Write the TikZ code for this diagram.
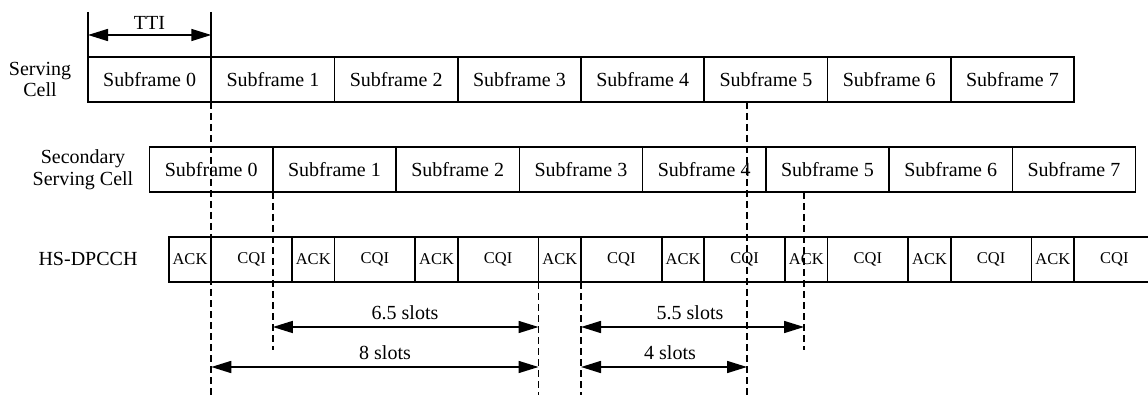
\documentclass[tikz,border=0pt]{standalone}
\usepackage{fontspec}
\setmainfont{Liberation Serif}
\usetikzlibrary{arrows.meta}
\begin{document}
\begin{tikzpicture}[x=1pt,y=-1pt,
  frame/.style={draw, line width=1.6pt, minimum height=45pt, inner sep=0pt, outer sep=0pt,
    font=\fontsize{20}{22}\selectfont},
  sfbox/.style={frame, minimum width=123.25pt},
  ackbox/.style={frame, minimum width=42.5pt, font=\fontsize{16.5}{18}\selectfont},
  cqibox/.style={frame, minimum width=80.75pt, font=\fontsize{16.5}{18}\selectfont},
  rowlabel/.style={align=center, inner sep=0pt, font=\fontsize{20}{21}\selectfont},
  lbl/.style={inner sep=0pt, font=\fontsize{20}{22}\selectfont},
  guide/.style={line width=1.6pt, dash pattern=on 7pt off 4pt},
  solidline/.style={line width=1.6pt},
  span/.style={line width=1.6pt, {Triangle[length=20pt,width=12pt]}-{Triangle[length=20pt,width=12pt]}}
]
\useasboundingbox (0,0) rectangle (1148,395);

\def\W{123.25}
% subframe rows and the HS-DPCCH slot row
\foreach \i in {0,...,7} {
  \node[sfbox] (s\i) at ({88+\W*(\i+0.5)},79.5) {Subframe \i};
  \node[sfbox] (c\i) at ({149.6+\W*(\i+0.5)},169.5) {Subframe \i};
  \node[ackbox] (a\i) at ({211.25+\W*\i-21.25},259.5) {ACK};
  \node[cqibox] (q\i) at ({211.25+\W*\i+40.375},259.5) {CQI};
}

% row labels
\node[rowlabel] (lserv) at (40,79.5) {Serving\\Cell};
\node[rowlabel, font=\fontsize{20}{22.5}\selectfont] (lsec) at (83,169.5) {Secondary\\Serving Cell};
\node[lbl] (lhs) at (88,258.5) {HS-DPCCH};

% TTI marker
\coordinate (ttiL) at (88,12);
\coordinate (ttiR) at (211.25,12);
\coordinate (ttiA) at (88,35);
\coordinate (ttiB) at (211.25,35);
\draw[solidline] (ttiL) -- (s0.north west);
\draw[solidline] (ttiR) -- (s0.north east);
\draw[span] (ttiA) -- (ttiB);
\node[lbl] (tti) at (149.5,22.5) {TTI};

% timing guides
\coordinate (g0b) at (211.25,395);
\coordinate (g1b) at (272.85,350);
\coordinate (g2b) at (538.5,395);
\coordinate (g3b) at (581,395);
\coordinate (g4t) at (747,102);
\coordinate (g4b) at (747,395);
\coordinate (g5t) at (804,192);
\coordinate (g5b) at (804,350);
\draw[guide] (s0.south east) -- (g0b);
\draw[guide] (c0.south east) -- (g1b);
\draw[guide] (a3.south west) -- (g2b);
\draw[guide] (q3.south west) -- (g3b);
\draw[guide] (g4t) -- (g4b);
\draw[guide] (g5t) -- (g5b);

% slot distances
\coordinate (d1a) at (272.85,327);
\coordinate (d1b) at (538.5,327);
\coordinate (d2a) at (211.25,367);
\coordinate (d2b) at (538.5,367);
\coordinate (d3a) at (581,327);
\coordinate (d3b) at (804,327);
\coordinate (d4a) at (581,367);
\coordinate (d4b) at (747,367);
\draw[span] (d1a) -- (d1b);
\draw[span] (d2a) -- (d2b);
\draw[span] (d3a) -- (d3b);
\draw[span] (d4a) -- (d4b);
\node[lbl] (t1) at (405,313) {6.5 slots};
\node[lbl] (t2) at (385,353) {8 slots};
\node[lbl] (t3) at (690,313) {5.5 slots};
\node[lbl] (t4) at (670,353) {4 slots};
\end{tikzpicture}
\end{document}
